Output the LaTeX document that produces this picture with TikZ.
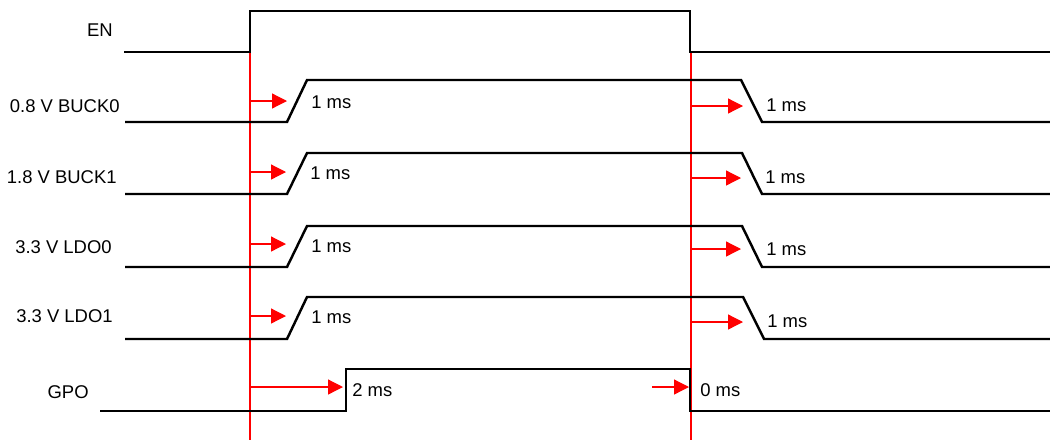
\documentclass[tikz,border=0pt]{standalone}
\usepackage{fontspec}
\setmainfont{Liberation Sans}
\usetikzlibrary{arrows.meta}
\begin{document}
\begin{tikzpicture}[x=0.02cm,y=-0.02cm,
  sig/.style={line width=1.4pt,line join=miter},
  marker/.style={red,line width=0.7pt},
  delay/.style={red,line width=0.7pt,-{Triangle[length=8.5pt,width=8.5pt]}},
  lbl/.style={anchor=base east,inner sep=0pt,font=\fontsize{10.5}{12}\selectfont},
  tm/.style={anchor=base west,inner sep=0pt,font=\fontsize{10.5}{12}\selectfont}]
\useasboundingbox (0,0) rectangle (1050,440);
% markers
\coordinate (m1t) at (250,52); \coordinate (m1b) at (250,440);
\coordinate (m2t) at (691,52); \coordinate (m2b) at (691,440);
\draw[marker] (m1t) -- (m1b);
\draw[marker] (m2t) -- (m2b);
% signal labels
\node[lbl] (lEN) at (113,36) {EN};
\node[lbl] (lB0) at (120,112) {0.8 V BUCK0};
\node[lbl] (lB1) at (117,183) {1.8 V BUCK1};
\node[lbl] (lL0) at (112,253) {3.3 V LDO0};
\node[lbl] (lL1) at (113,322) {3.3 V LDO1};
\node[lbl] (lG) at (89,398) {GPO};
% waveforms
\draw[sig] (124,52) -- (250,52) -- (250,11) -- (690,11) -- (690,52) -- (1050,52);
\draw[sig] (125,122) -- (287,122) -- (307,80) -- (741,80) -- (762,122) -- (1050,122);
\draw[sig] (125,194) -- (287,194) -- (307,153) -- (742,153) -- (762,194) -- (1050,194);
\draw[sig] (125,267) -- (287,267) -- (307,226) -- (742,226) -- (762,267) -- (1050,267);
\draw[sig] (125,339) -- (287,339) -- (307,297) -- (743,297) -- (764,339) -- (1050,339);
\draw[sig] (100,411) -- (346,411) -- (346,369) -- (690,369) -- (690,411) -- (1050,411);
% delay arrows (left)
\coordinate (a1s) at (250,101); \coordinate (a1e) at (287,101);
\coordinate (a2s) at (250,172); \coordinate (a2e) at (286,172);
\coordinate (a3s) at (250,244); \coordinate (a3e) at (286,244);
\coordinate (a4s) at (250,316); \coordinate (a4e) at (286,316);
\coordinate (a5s) at (250,387); \coordinate (a5e) at (343,387);
\draw[delay] (a1s) -- (a1e);
\draw[delay] (a2s) -- (a2e);
\draw[delay] (a3s) -- (a3e);
\draw[delay] (a4s) -- (a4e);
\draw[delay] (a5s) -- (a5e);
% delay arrows (right)
\coordinate (b1s) at (691,106); \coordinate (b1e) at (743,106);
\coordinate (b2s) at (691,178); \coordinate (b2e) at (741,178);
\coordinate (b3s) at (691,249); \coordinate (b3e) at (741,249);
\coordinate (b4s) at (691,322); \coordinate (b4e) at (743,322);
\coordinate (b5s) at (652,387); \coordinate (b5e) at (689,387);
\draw[delay] (b1s) -- (b1e);
\draw[delay] (b2s) -- (b2e);
\draw[delay] (b3s) -- (b3e);
\draw[delay] (b4s) -- (b4e);
\draw[delay] (b5s) -- (b5e);
% delay texts
\node[tm] (t1) at (311,108) {1 ms};
\node[tm] (t2) at (310,179) {1 ms};
\node[tm] (t3) at (311,252) {1 ms};
\node[tm] (t4) at (311,323) {1 ms};
\node[tm] (t5) at (352,396) {2 ms};
\node[tm] (u1) at (766,111) {1 ms};
\node[tm] (u2) at (765,183) {1 ms};
\node[tm] (u3) at (766,255) {1 ms};
\node[tm] (u4) at (767,327) {1 ms};
\node[tm] (u5) at (700,396) {0 ms};
\end{tikzpicture}
\end{document}
